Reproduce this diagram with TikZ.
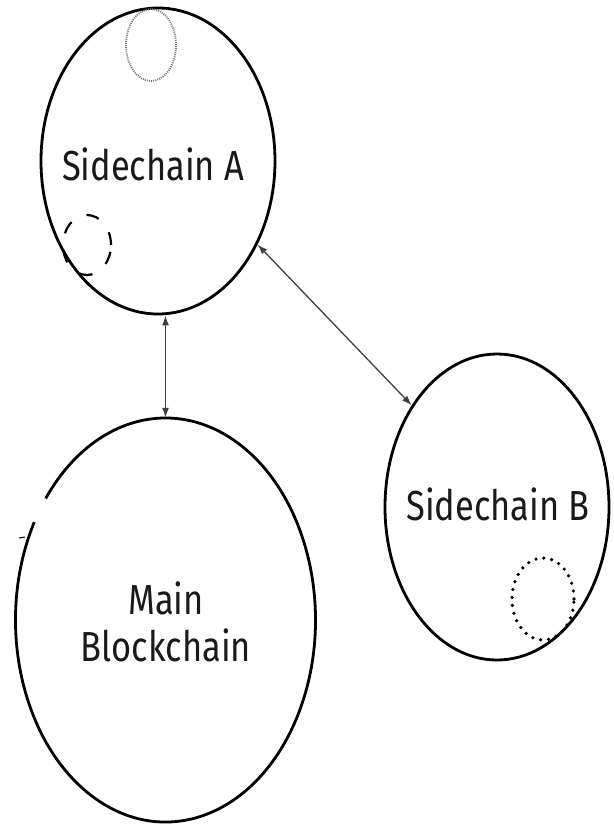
\documentclass[tikz,border=0pt]{standalone}
\usepackage{fontspec}
\setmainfont{Fira Sans}[FakeStretch=0.82]
\usetikzlibrary{arrows.meta,shapes.geometric}

\begin{document}
\begin{tikzpicture}[x=1pt,y=-1pt,
  chain/.style={ellipse,draw,line width=2.8pt,inner sep=0pt},
  tag/.style={font=\fontsize{42}{47}\selectfont,align=center,text=black!90},
  link/.style={{Latex[length=10pt,width=7pt]}-{Latex[length=10pt,width=7pt]},line width=1.3pt,black!75},
  seed/.style={ellipse,inner sep=0pt,line width=1.6pt}]
  \useasboundingbox (0,0) rectangle (613,827);
  % the three chains
  \node[chain,minimum width=234pt,minimum height=306pt] (A) at (158,161) {};
  \node[ellipse,inner sep=0pt,minimum width=300pt,minimum height=404pt] (M) at (165.5,620) {};
  \node[chain,minimum width=224pt,minimum height=306pt] (B) at (497,507) {};
  % main chain outline, open on the left
  \draw[line width=2.8pt] ([shift={(151:150pt and 202pt)}]M.center)
    arc[start angle=151,end angle=503,x radius=150pt,y radius=202pt];
  \draw[line width=1pt] (19,538) -- (25,537);
  % labels
  \node[tag] (Atext) at (153,164) {Sidechain A};
  \node[tag] (Mtext) at (166,622) {Main\\Blockchain};
  \node[tag] (Btext) at (498,504) {Sidechain B};
  % small rings inside the sidechains
  \node[seed,draw=black!55,line width=1.8pt,dash pattern=on 1pt off 1.1pt,minimum width=50pt,minimum height=72pt] (Aseed) at (151,45) {};
  \node[seed,draw,line width=2.2pt,dash pattern=on 13pt off 17pt,minimum width=48pt,minimum height=60pt] (Afork) at (87,245) {};
  \node[seed,draw,line width=3.6pt,line cap=round,dash pattern=on 0pt off 8pt,minimum width=62pt,minimum height=82pt] (Bseed) at (543,599) {};
  % two-way pegs
  \draw[link] (A.south -| M.north) -- (M.north);
  \draw[link] (A.-40) -- (B.130);
\end{tikzpicture}
\end{document}
